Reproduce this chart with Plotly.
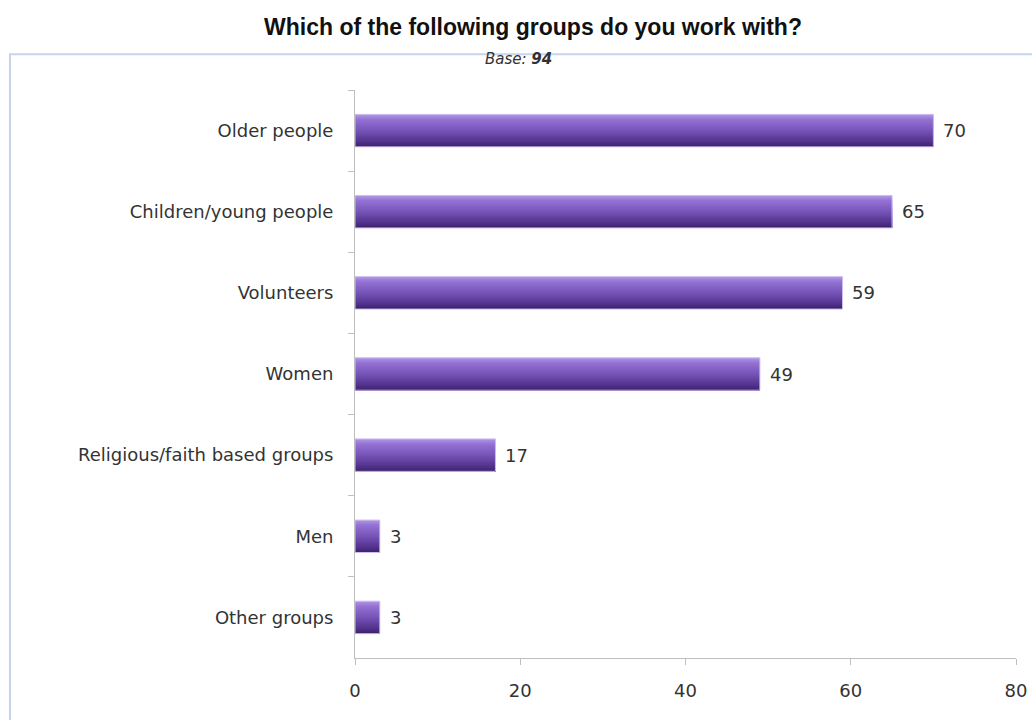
import plotly.graph_objects as go

categories = [
    "Older people",
    "Children/young people",
    "Volunteers",
    "Women",
    "Religious/faith based groups",
    "Men",
    "Other groups",
]
values = [70, 65, 59, 49, 17, 3, 3]
x_ticks = [0, 20, 40, 60, 80]

# colour stops for the vertical shading of the bars (top -> bottom)
shade_stops = [
    (0.00, (172, 148, 228)),
    (0.15, (148, 114, 212)),
    (0.50, (118, 84, 184)),
    (0.85, (82, 51, 140)),
    (1.00, (64, 36, 111)),
]


def shade(t):
    for (t0, c0), (t1, c1) in zip(shade_stops, shade_stops[1:]):
        if t <= t1:
            f = (t - t0) / (t1 - t0)
            r, g, b = (round(a + (bb - a) * f) for a, bb in zip(c0, c1))
            return f"rgb({r},{g},{b})"
    return "rgb(%d,%d,%d)" % shade_stops[-1][1]


bar_width = 0.4
n_bands = 28
step = bar_width / n_bands

fig = go.Figure()
# each band runs from its own top edge down to the bar bottom; later bands overlay earlier ones
for k in range(n_bands):
    fig.add_trace(go.Bar(
        y=categories,
        x=values,
        orientation="h",
        width=bar_width - k * step,
        offset=-bar_width / 2 + k * step,
        marker=dict(color=shade(k / (n_bands - 1)), line=dict(width=0)),
        hoverinfo="skip",
        showlegend=False,
    ))

# thin pale outline around each bar
fig.add_trace(go.Bar(
    y=categories,
    x=values,
    orientation="h",
    width=bar_width,
    marker=dict(color="rgba(0,0,0,0)", line=dict(color="#cdbdee", width=1)),
    hoverinfo="skip",
    showlegend=False,
))

label_font = dict(family="DejaVu Sans", size=18, color="#333333")

for cat, v in zip(categories, values):
    fig.add_annotation(
        x=v, y=cat, text=str(v), showarrow=False,
        xanchor="left", xshift=8,
        font=label_font,
    )

# outer frame of the chart area
fig.add_shape(
    type="rect", xref="paper", yref="paper",
    x0=-0.522, x1=1.04, y0=-0.14, y1=1.063,
    line=dict(color="#c6d5ec", width=2), layer="below",
)

fig.add_annotation(
    xref="paper", yref="paper", x=0.247, y=1.063,
    text="<i>Base: <b>94</b></i>", showarrow=False,
    xanchor="center", yanchor="middle", yshift=-5,
    font=dict(family="DejaVu Sans", size=15, color="#333333"),
)

fig.update_layout(
    width=1032, height=720,
    margin=dict(l=355, r=16, t=90, b=62),
    paper_bgcolor="white", plot_bgcolor="white",
    barmode="overlay",
    title=dict(
        text="<b>Which of the following groups do you work with?</b>",
        x=0.5165, xanchor="center", y=0.963, yanchor="middle",
        font=dict(family="Liberation Sans", size=23, color="#111111"),
    ),
    xaxis=dict(
        range=[0, 80], tickvals=x_ticks, ticks="outside", ticklen=6,
        tickcolor="#bfbfbf", showline=True, linecolor="#bfbfbf", linewidth=1,
        showgrid=False, zeroline=False, automargin=False,
        ticklabelstandoff=10,
        tickfont=dict(family="DejaVu Sans", size=18, color="#333333"),
    ),
    yaxis=dict(
        categoryorder="array", categoryarray=categories, autorange="reversed",
        ticks="outside", tickson="boundaries", ticklen=6, tickcolor="#bfbfbf",
        showline=True, linecolor="#bfbfbf", linewidth=1, showgrid=False,
        automargin=False, ticklabelstandoff=17,
        tickfont=label_font,
    ),
)

fig.write_html("out.html")
